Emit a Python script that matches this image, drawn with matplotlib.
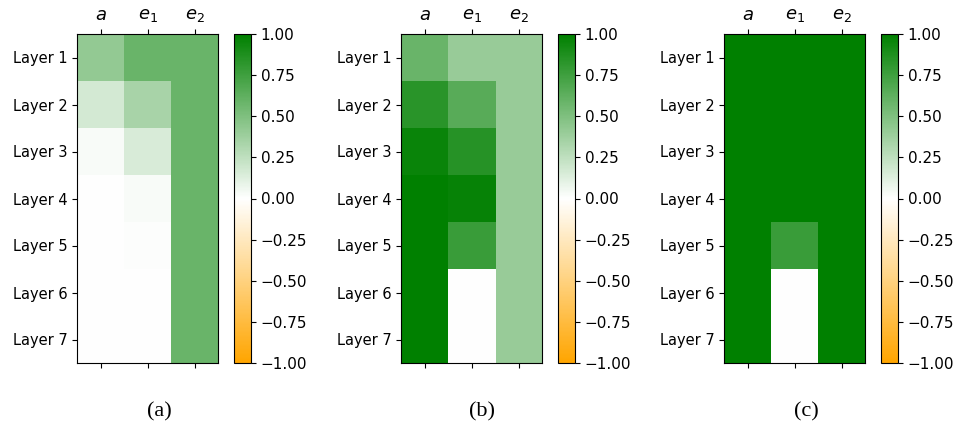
import numpy as np
import matplotlib
matplotlib.use("Agg")
import matplotlib.pyplot as plt
from matplotlib.colors import LinearSegmentedColormap

# column / row labels
cols = [r"$a$", r"$e_1$", r"$e_2$"]
rows = ["Layer 1", "Layer 2", "Layer 3", "Layer 4", "Layer 5", "Layer 6", "Layer 7"]
captions = ["(a)", "(b)", "(c)"]

# values (rows = layers, cols = a, e1, e2)
vals_a = [[0.42, 0.58, 0.58],
          [0.17, 0.34, 0.58],
          [0.03, 0.15, 0.58],
          [0.00, 0.03, 0.58],
          [0.00, 0.01, 0.58],
          [0.00, 0.00, 0.58],
          [0.00, 0.00, 0.58]]
vals_b = [[0.58, 0.40, 0.40],
          [0.83, 0.65, 0.40],
          [0.96, 0.85, 0.40],
          [1.00, 0.97, 0.40],
          [1.00, 0.77, 0.40],
          [1.00, 0.00, 0.40],
          [1.00, 0.00, 0.40]]
vals_c = [[1.00, 1.00, 1.00],
          [1.00, 1.00, 1.00],
          [1.00, 1.00, 1.00],
          [1.00, 1.00, 1.00],
          [1.00, 0.77, 1.00],
          [1.00, 0.00, 1.00],
          [1.00, 0.00, 1.00]]

cmap = LinearSegmentedColormap.from_list("og", ["orange", "white", "green"])

W, H = 956, 425
fig = plt.figure(figsize=(W / 100, H / 100), dpi=100)

# pixel layout of each panel: axes left, colorbar left, caption centre
panels = [(77, 234, 159), (401, 558, 482), (724, 881, 806)]
top, bottom = 34, 363
ax_w, cb_w = 141, 17
cb_ticks = np.arange(-1, 1.01, 0.25)

for (axl, cbl, capx), data, cap in zip(panels, [vals_a, vals_b, vals_c], captions):
    ax = fig.add_axes([axl / W, 1 - bottom / H, ax_w / W, (bottom - top) / H])
    im = ax.imshow(np.array(data), cmap=cmap, vmin=-1, vmax=1, aspect="auto")
    ax.set_xticks(range(len(cols)))
    ax.set_xticklabels(cols, fontsize=13)
    ax.tick_params(axis="x", top=True, labeltop=True, bottom=True, labelbottom=False)
    ax.set_yticks(range(len(rows)))
    ax.set_yticklabels(rows, fontsize=10.5)

    cax = fig.add_axes([cbl / W, 1 - bottom / H, cb_w / W, (bottom - top) / H])
    cb = fig.colorbar(im, cax=cax, ticks=cb_ticks)
    cb.ax.set_yticklabels([f"{t:.2f}".replace("-", "\u2212") for t in cb_ticks])
    cb.ax.tick_params(labelsize=11)

    fig.text(capx / W, 1 - 412 / H, cap, ha="center", va="center",
             fontsize=16, family="Liberation Serif")

fig.savefig("out.png", dpi=100)
